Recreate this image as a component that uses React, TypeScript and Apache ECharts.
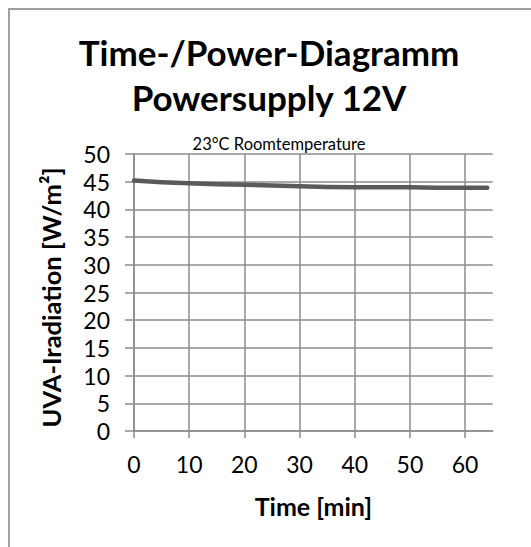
import React, { useEffect, useRef } from 'react';
import * as echarts from 'echarts';

const timeMin = [0, 5, 10, 15, 20, 25, 30, 35, 40, 45, 50, 55, 60, 64];
const irradiation = [45.2, 44.9, 44.7, 44.55, 44.45, 44.3, 44.2, 44.05, 44.0, 44.0, 44.0, 43.9, 43.9, 43.9];
const xTicks = [0, 10, 20, 30, 40, 50, 60];
const titleLines = ['Time-/Power-Diagramm', 'Powersupply 12V'];
const subtitle = '23°C Roomtemperature';
const xName = 'Time [min]';
const yName = 'UVA-Iradiation [W/m²]';

const FONT = 'Lato';
const GRID_COLOR = '#8c8c8c';

export default function App() {
  const ref = useRef<HTMLDivElement>(null);

  useEffect(() => {
    if (!ref.current) return;
    const chart = echarts.init(ref.current, undefined, { renderer: 'svg' });
    const gridLine = { color: GRID_COLOR, width: 1.5 };
    chart.setOption({
      animation: false,
      backgroundColor: '#ffffff',
      title: [
        {
          text: titleLines.join('\n'),
          left: 269,
          top: 29,
          textAlign: 'center',
          padding: 0,
          textStyle: { fontFamily: FONT, fontWeight: 'bold', fontSize: 35, lineHeight: 45, color: '#000' },
        },
        {
          text: subtitle,
          left: 279,
          top: 135,
          textAlign: 'center',
          padding: 0,
          textStyle: { fontFamily: FONT, fontWeight: 'normal', fontSize: 16.5, lineHeight: 17, color: '#000' },
        },
      ],
      grid: { left: 134, right: 38.3, top: 154, bottom: 116, containLabel: false, outerBoundsMode: 'none' },
      xAxis: {
        type: 'value',
        min: 0,
        max: 65,
        interval: 10,
        axisLine: { show: true, onZero: false, lineStyle: gridLine },
        axisTick: { show: true, inside: false, length: 7, customValues: xTicks, lineStyle: gridLine },
        axisLabel: {
          customValues: xTicks,
          margin: 21,
          fontFamily: FONT,
          fontSize: 23,
          color: '#000',
          formatter: (v: number) => (v > 60 ? '' : String(v)),
        },
        splitLine: { show: false },
        name: xName,
        nameLocation: 'middle',
        nameGap: 62,
        nameTextStyle: { fontFamily: FONT, fontWeight: 'bold', fontSize: 25, color: '#000' },
      },
      yAxis: {
        type: 'value',
        min: 0,
        max: 50,
        interval: 5,
        axisLine: { show: true, lineStyle: gridLine },
        axisTick: { show: true, inside: false, length: 9, lineStyle: gridLine },
        axisLabel: { margin: 24, fontFamily: FONT, fontSize: 23, color: '#000' },
        splitLine: { show: true, lineStyle: gridLine },
        name: yName,
        nameLocation: 'middle',
        nameGap: 70,
        nameRotate: 90,
        nameTextStyle: { fontFamily: FONT, fontWeight: 'bold', fontSize: 25.5, color: '#000', padding: [0, 10, 0, 0] },
      },
      series: [
        {
          type: 'line',
          data: timeMin.map((t, i) => [t, irradiation[i]]),
          symbol: 'none',
          showSymbol: false,
          z: 3,
          lineStyle: { color: '#5a5a5a', width: 4.5, cap: 'round', join: 'round' },
          itemStyle: { color: '#5a5a5a' },
          markLine: {
            silent: true,
            symbol: 'none',
            label: { show: false },
            z: 1,
            lineStyle: { type: 'solid', color: GRID_COLOR, width: 1.5 },
            data: xTicks.map((v) => ({ xAxis: v })),
          },
        },
      ],
      graphic: [
        { type: 'line', shape: { x1: 8, y1: 9, x2: 531, y2: 9 }, style: { stroke: '#a0a0a0', lineWidth: 2 } },
        { type: 'line', shape: { x1: 9, y1: 8, x2: 9, y2: 547 }, style: { stroke: '#a0a0a0', lineWidth: 2 } },
      ],
    });
    return () => chart.dispose();
  }, []);

  return (
    <div
      ref={ref}
      style={{ position: 'fixed', left: 0, top: 0, width: 531, height: 547, background: '#fff' }}
    />
  );
}
